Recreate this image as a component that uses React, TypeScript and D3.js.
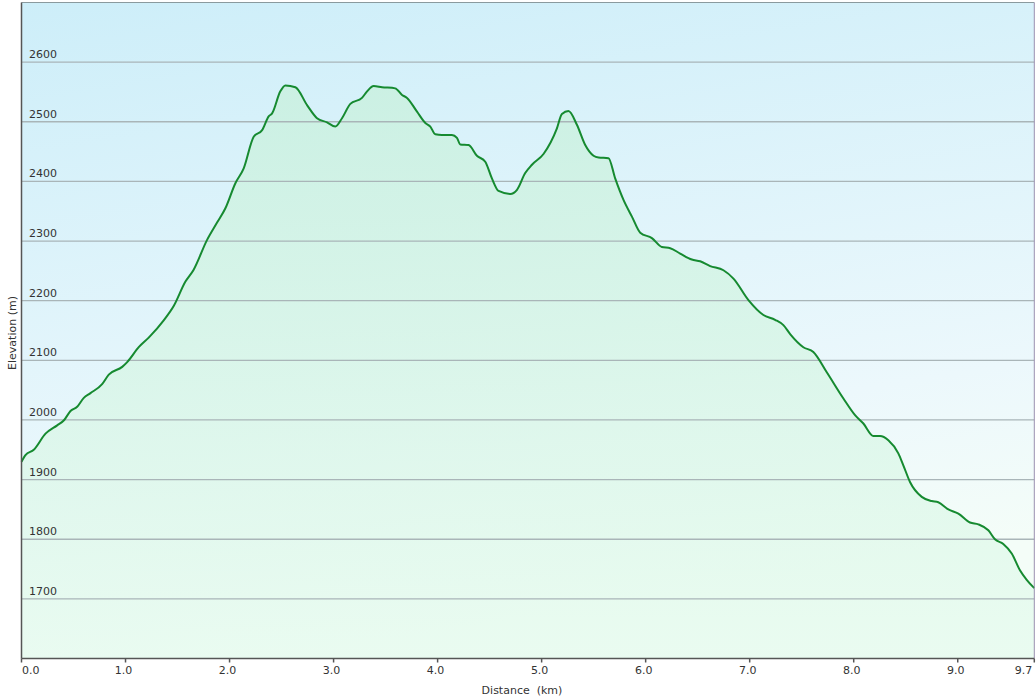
import React from "react";
import * as d3 from "d3";

const distanceKm = [
  0.0, 0.038, 0.118, 0.231, 0.343, 0.406, 0.471, 0.535, 0.599, 0.663, 0.775, 0.839, 0.968, 1.016,
  1.127, 1.223, 1.367, 1.463, 1.576, 1.655, 1.784, 1.88, 1.96, 2.056, 2.136, 2.232, 2.313, 2.376,
  2.409, 2.488, 2.536, 2.633, 2.745, 2.841, 2.937, 3.017, 3.081, 3.161, 3.273, 3.322, 3.385, 3.466,
  3.593, 3.658, 3.706, 3.802, 3.882, 3.93, 3.978, 4.042, 4.138, 4.186, 4.218, 4.298, 4.378, 4.458,
  4.522, 4.586, 4.698, 4.763, 4.842, 4.907, 5.018, 5.147, 5.195, 5.258, 5.339, 5.419, 5.499, 5.547,
  5.643, 5.707, 5.787, 5.868, 5.948, 6.06, 6.156, 6.236, 6.332, 6.444, 6.524, 6.62, 6.748, 6.844,
  6.988, 7.132, 7.244, 7.324, 7.389, 7.516, 7.612, 7.741, 7.901, 8.013, 8.093, 8.189, 8.253, 8.333,
  8.429, 8.477, 8.541, 8.654, 8.75, 8.813, 8.91, 9.006, 9.118, 9.198, 9.294, 9.358, 9.438, 9.519,
  9.598, 9.663, 9.736,
];
const elevationM = [
  1930, 1941, 1950, 1977, 1991, 1999, 2015, 2022, 2037, 2045, 2060, 2076, 2089, 2097,
  2122, 2138, 2167, 2191, 2232, 2252, 2302, 2331, 2355, 2397, 2422, 2475, 2486, 2509,
  2514, 2551, 2561, 2558, 2528, 2506, 2499, 2492, 2506, 2530, 2540, 2551, 2560, 2558,
  2556, 2545, 2540, 2517, 2498, 2492, 2479, 2478, 2478, 2473, 2462, 2461, 2443, 2433,
  2405, 2384, 2379, 2386, 2414, 2428, 2446, 2489, 2513, 2518, 2495, 2461, 2443, 2440,
  2439, 2405, 2369, 2341, 2314, 2305, 2290, 2288, 2279, 2269, 2266, 2258, 2251, 2237,
  2201, 2176, 2168, 2159, 2144, 2122, 2114, 2080, 2036, 2008, 1994, 1973, 1973, 1966,
  1944, 1924, 1896, 1871, 1864, 1862, 1850, 1843, 1828, 1825, 1815, 1800, 1792, 1776,
  1748, 1732, 1718,
];
const xTicks = [0, 1, 2, 3, 4, 5, 6, 7, 8, 9, 9.736];
const xTickLabels = ["0.0", "1.0", "2.0", "3.0", "4.0", "5.0", "6.0", "7.0", "8.0", "9.0", "9.7"];
const yTicks = [1700, 1800, 1900, 2000, 2100, 2200, 2300, 2400, 2500, 2600];

export default function App() {
  const W = 1036;
  const H = 700;
  const left = 21.5;
  const right = 1034.3;
  const top = 2.5;
  const bottom = 658.5;
  const x = d3.scaleLinear().domain([0, 9.736]).range([left, right]);
  const y = d3.scaleLinear().domain([1600, 2700]).range([bottom, top]);
  const data = distanceKm.map((d, i) => [d, elevationM[i]] as [number, number]);
  const line = d3.line<[number, number]>().x((d) => x(d[0])).y((d) => y(d[1])).curve(d3.curveMonotoneX);
  const area = d3
    .area<[number, number]>()
    .x((d) => x(d[0]))
    .y0(bottom)
    .y1((d) => y(d[1]))
    .curve(d3.curveMonotoneX);
  const font = "Verdana, 'DejaVu Sans', sans-serif";
  return (
    <svg
      width={W}
      height={H}
      style={{ position: "absolute", left: 0, top: 0, background: "#fff" }}
      fontFamily={font}
    >
      <defs>
        <linearGradient id="bg" x1="0" y1="0" x2="0.25" y2="1">
          <stop offset="0" stopColor="#cdeef9" />
          <stop offset="0.75" stopColor="#ecf8fc" />
          <stop offset="1" stopColor="#f4fdf8" />
        </linearGradient>
        <linearGradient id="fill" x1="0" y1="0" x2="0" y2="1">
          <stop offset="0" stopColor="#c8f0dc" stopOpacity={0.75} />
          <stop offset="1" stopColor="#e6fbee" stopOpacity={0.75} />
        </linearGradient>
      </defs>
      <rect x={left} y={top} width={right - left} height={bottom - top} fill="url(#bg)" />
      <path d={area(data) || ""} fill="url(#fill)" />
      {yTicks.map((t) => (
        <g key={t}>
          <line x1={left} x2={right} y1={y(t)} y2={y(t)} stroke="#a9b5b8" strokeWidth={1.3} />
          <text x={29} y={y(t) - 4} fontSize={11} fill="#333">
            {t}
          </text>
        </g>
      ))}
      <path d={line(data) || ""} fill="none" stroke="#168a30" strokeWidth={2} strokeLinejoin="round" />
      <line x1={left} x2={right} y1={top} y2={top} stroke="#8a9a9e" strokeWidth={1} />
      <line x1={right} x2={right} y1={top} y2={bottom} stroke="#9a8fb0" strokeWidth={1} />
      <line x1={left} x2={left} y1={top} y2={bottom} stroke="#555" strokeWidth={1.5} />
      <line x1={left} x2={right} y1={bottom} y2={bottom} stroke="#555" strokeWidth={1.5} />
      {xTicks.map((t, i) => {
        const px = x(t);
        const anchor = i === 0 ? "start" : i === xTicks.length - 1 ? "end" : "middle";
        const tx = i === 0 ? px + 0.5 : i === xTicks.length - 1 ? px - 2 : px - 2;
        return (
          <g key={i}>
            <line x1={px} x2={px} y1={bottom} y2={bottom + 4} stroke="#555" strokeWidth={1.5} />
            <text x={tx} y={674} fontSize={11} fill="#333" textAnchor={anchor}>
              {xTickLabels[i]}
            </text>
          </g>
        );
      })}
      <text x={522} y={694} fontSize={11} fill="#333" textAnchor="middle" style={{ whiteSpace: "pre" }}>
        {"Distance  (km)"}
      </text>
      <text
        transform={`translate(16,333) rotate(-90)`}
        fontSize={11}
        fill="#333"
        textAnchor="middle"
      >
        Elevation (m)
      </text>
    </svg>
  );
}
